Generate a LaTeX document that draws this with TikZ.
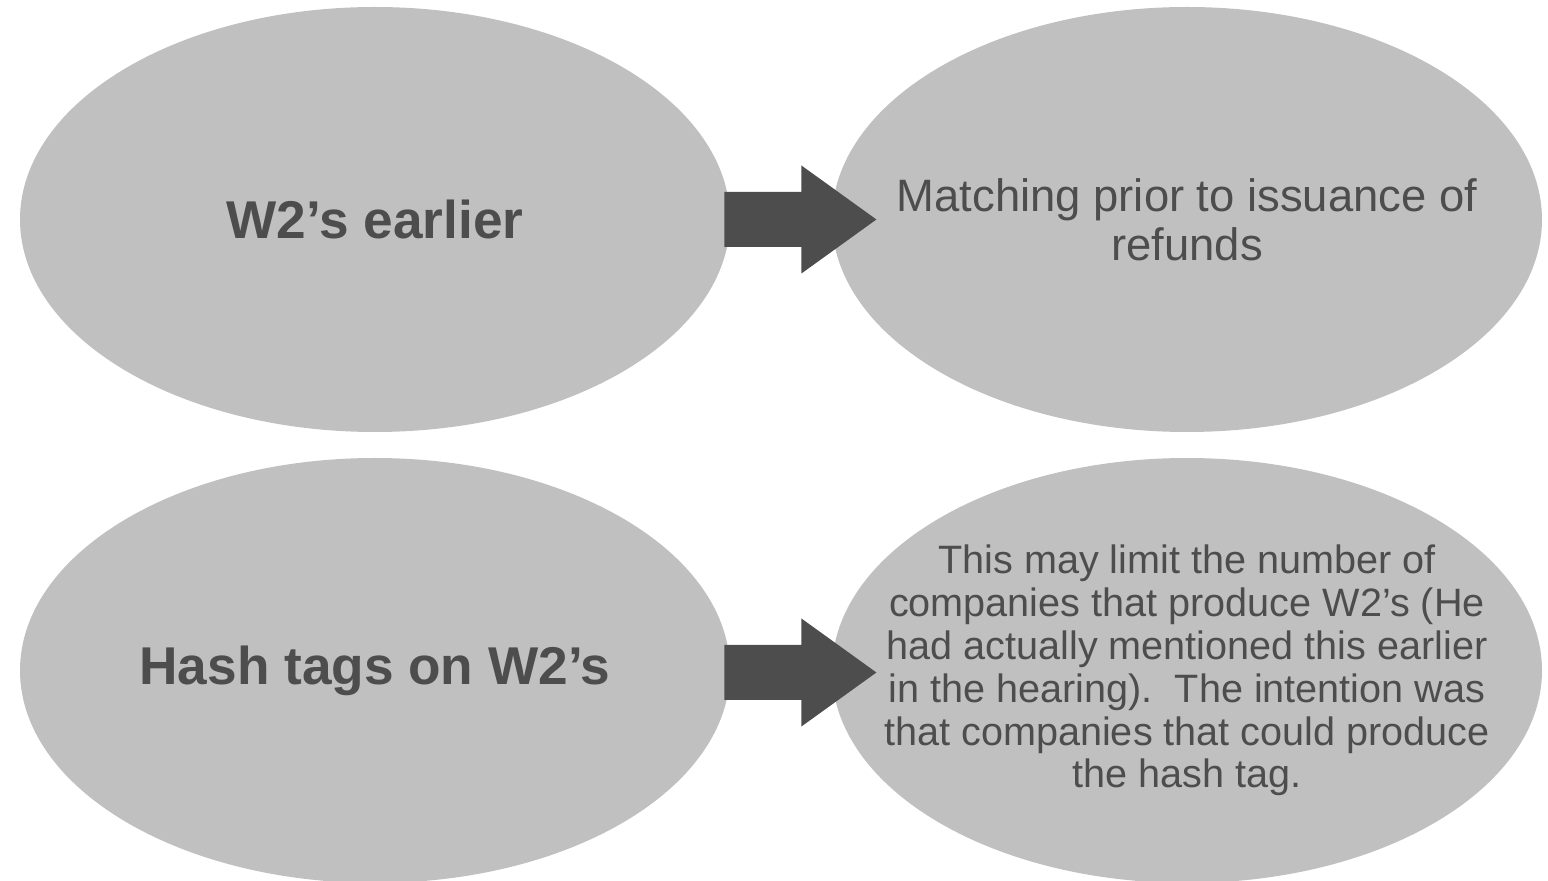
\documentclass[tikz,border=0pt]{standalone}
\usepackage{fontspec}
\setmainfont{Liberation Sans}
\usetikzlibrary{shapes.geometric}

\definecolor{bubblegray}{RGB}{192,192,192}
\definecolor{inkgray}{RGB}{77,77,77}

\begin{document}
\begin{tikzpicture}[x=0.5pt, y=-0.5pt, bubble/.style={ellipse, fill=bubblegray, minimum width=355pt, minimum height=212.5pt, inner sep=0pt}, topic/.style={text=inkgray, align=center, inner sep=0pt, font=\fontsize{26.6}{30}\selectfont\bfseries}, detail/.style={text=inkgray, align=center, inner sep=0pt, font=\fontsize{22.7}{24.5}\selectfont}, longdetail/.style={text=inkgray, align=center, inner sep=0pt, font=\fontsize{19.8}{21.45}\selectfont}, blockarrow/.style={fill=inkgray}]

		\useasboundingbox (0,0) rectangle (1548,881);

		\node[bubble] (w2) at (375, 219.5) {};

		\node[bubble] (match) at (1187, 219.5) {};

		\node[bubble] (hash) at (375, 670.5) {};

		\node[bubble] (limit) at (1187, 670.5) {};

		\fill[blockarrow] (w2.east) ++(-6,0) -- ++(0,-27.5) -- ++(77,0) -- ++(0,-26.5) -- ++(75,54) -- ++(-75,54) -- ++(0,-26.5) -- ++(-77,0) -- cycle;

		\fill[blockarrow] (hash.east) ++(-6,2) -- ++(0,-27.5) -- ++(77,0) -- ++(0,-26.5) -- ++(75,54) -- ++(-75,54) -- ++(0,-26.5) -- ++(-77,0) -- cycle;

		\node[topic] (w2t) at (w2) {W2’s earlier};

		\node[detail] (matcht) at (match) {Matching prior to issuance of\\refunds};

		\node[topic] (hasht) at (hash) {Hash tags on W2’s};

		\node[longdetail] (limitt) at (limit) {This may limit the number of\\companies that produce W2’s (He\\had actually mentioned this earlier\\in the hearing).\ \ The intention was\\that companies that could produce\\the hash tag.};

	\end{tikzpicture}
\end{document}
